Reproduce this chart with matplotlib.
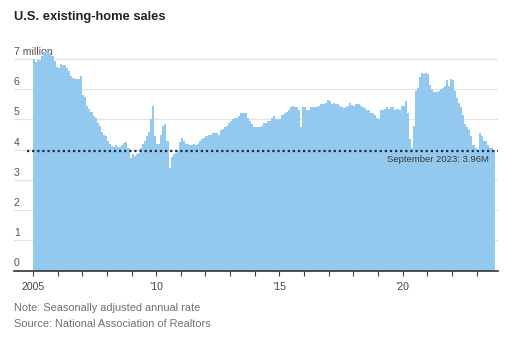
import numpy as np
import matplotlib.pyplot as plt
from matplotlib import font_manager

# monthly existing-home sales, seasonally adjusted annual rate (millions)
sales_2005 = [7.0, 6.9, 6.97, 6.97, 7.1, 7.22, 7.22, 7.22, 7.2, 7.1, 6.95, 6.75]
sales_2006 = [6.7, 6.85, 6.8, 6.8, 6.7, 6.6, 6.45, 6.37, 6.33, 6.33, 6.35, 6.45]
sales_2007 = [5.8, 5.75, 5.45, 5.35, 5.25, 5.1, 5.05, 4.9, 4.8, 4.6, 4.5, 4.45]
sales_2008 = [4.3, 4.2, 4.12, 4.1, 4.15, 4.1, 4.1, 4.15, 4.22, 4.25, 4.05, 3.72]
sales_2009 = [3.85, 3.8, 3.85, 3.9, 4.05, 4.2, 4.3, 4.45, 4.6, 5.0, 5.45, 4.45]
sales_2010 = [4.2, 4.2, 4.5, 4.8, 4.85, 4.3, 3.4, 3.75, 3.85, 3.9, 3.95, 4.25]
sales_2011 = [4.4, 4.3, 4.2, 4.2, 4.15, 4.15, 4.2, 4.15, 4.2, 4.3, 4.35, 4.4]
sales_2012 = [4.45, 4.5, 4.5, 4.55, 4.55, 4.55, 4.5, 4.65, 4.7, 4.75, 4.8, 4.9]
sales_2013 = [4.95, 5.0, 5.05, 5.05, 5.1, 5.2, 5.2, 5.2, 5.05, 4.95, 4.85, 4.75]
sales_2014 = [4.75, 4.75, 4.75, 4.8, 4.9, 4.9, 4.95, 4.95, 5.05, 5.1, 5.0, 5.0]
sales_2015 = [5.0, 5.15, 5.2, 5.25, 5.3, 5.4, 5.45, 5.4, 5.4, 5.3, 4.75, 5.4]
sales_2016 = [5.4, 5.3, 5.3, 5.4, 5.4, 5.4, 5.4, 5.45, 5.5, 5.5, 5.55, 5.65]
sales_2017 = [5.6, 5.5, 5.55, 5.5, 5.5, 5.45, 5.4, 5.38, 5.4, 5.45, 5.55, 5.48]
sales_2018 = [5.45, 5.5, 5.5, 5.45, 5.4, 5.38, 5.3, 5.3, 5.2, 5.2, 5.15, 5.05]
sales_2019 = [5.0, 5.3, 5.3, 5.35, 5.4, 5.35, 5.4, 5.4, 5.3, 5.35, 5.3, 5.45]
sales_2020 = [5.45, 5.6, 5.2, 4.35, 4.05, 4.8, 5.95, 6.05, 6.4, 6.55, 6.5, 6.55]
sales_2021 = [6.5, 6.15, 6.0, 5.9, 5.9, 5.95, 6.0, 6.05, 6.1, 6.3, 6.1, 6.35]
sales_2022 = [6.3, 5.95, 5.7, 5.55, 5.4, 5.15, 4.85, 4.75, 4.65, 4.45, 4.15, 4.05]
sales_2023 = [4.0, 4.55, 4.45, 4.3, 4.3, 4.15, 4.07, 4.04, 3.96]

year_ticks = list(range(2005, 2024))
year_labels = {2005: '2005', 2010: '\u201910', 2015: '\u201915', 2020: '\u201920'}
y_ticks = [0, 1, 2, 3, 4, 5, 6, 7]
y_labels = ['0', '1', '2', '3', '4', '5', '6', '7 million']
latest_value = 3.96
latest_label = 'September 2023: 3.96M'

sales = (sales_2005 + sales_2006 + sales_2007 + sales_2008 + sales_2009 +
         sales_2010 + sales_2011 + sales_2012 + sales_2013 + sales_2014 +
         sales_2015 + sales_2016 + sales_2017 + sales_2018 + sales_2019 +
         sales_2020 + sales_2021 + sales_2022 + sales_2023)
edges = 2005 + np.arange(len(sales) + 1) / 12.0

installed = {f.name for f in font_manager.fontManager.ttflist}
base_font = 'Liberation Sans' if 'Liberation Sans' in installed else 'DejaVu Sans'
title_font = 'Liberation Sans Narrow' if 'Liberation Sans Narrow' in installed else base_font
plt.rcParams['font.family'] = [base_font, 'DejaVu Sans']

fig = plt.figure(figsize=(5.2, 3.37), dpi=100)
ax = fig.add_axes([0.0269, 0.1973, 0.9308, 0.6543])

ax.stairs(sales, edges, fill=True, color='#93c9ee', baseline=0, zorder=2)

ax.set_xlim(2004.229, 2023.87)
ax.set_ylim(0, 7.3)

# horizontal grid behind the bars
ax.set_yticks(y_ticks)
ax.set_yticklabels([])
ax.tick_params(axis='y', length=0)
ax.grid(axis='y', color='#e3e3e3', linewidth=0.9)
ax.set_axisbelow(True)

for v, lab in zip(y_ticks, y_labels):
    ax.text(2004.229, v + 0.07, lab, ha='left', va='bottom',
            fontsize=7.6, color='#555555', zorder=1)

ax.set_xticks(year_ticks)
ax.set_xticklabels([year_labels.get(y, '') for y in year_ticks])
ax.tick_params(axis='x', length=3.5, width=0.8, color='#444444', pad=5,
               labelsize=7.6, labelcolor='#444444')

for side in ['left', 'right', 'top']:
    ax.spines[side].set_visible(False)
ax.spines['bottom'].set_color('#333333')
ax.spines['bottom'].set_linewidth(1.2)
ax.spines['bottom'].set_zorder(4)

# latest reading as a dotted reference line
ax.hlines(latest_value, 2004.76, 2023.87, colors='#1f2a38', linewidth=1.6,
          linestyles=(0, (1, 1.3)), zorder=5)
ax.text(2023.5, latest_value - 0.12, latest_label, ha='right', va='top',
        fontsize=6.8, color='#3a3a3a', zorder=6)

fig.text(14 / 520, 1 - 17 / 337, 'U.S. existing-home sales', fontsize=9.3,
         fontweight='bold', family=[title_font, 'DejaVu Sans'], color='#222222',
         ha='left', va='center')
fig.text(14 / 520, 1 - 308 / 337, 'Note: Seasonally adjusted annual rate',
         fontsize=7.9, color='#707070', ha='left', va='center')
fig.text(14 / 520, 1 - 324 / 337, 'Source: National Association of Realtors',
         fontsize=7.9, color='#707070', ha='left', va='center')

fig.savefig('out.png', dpi=100)
